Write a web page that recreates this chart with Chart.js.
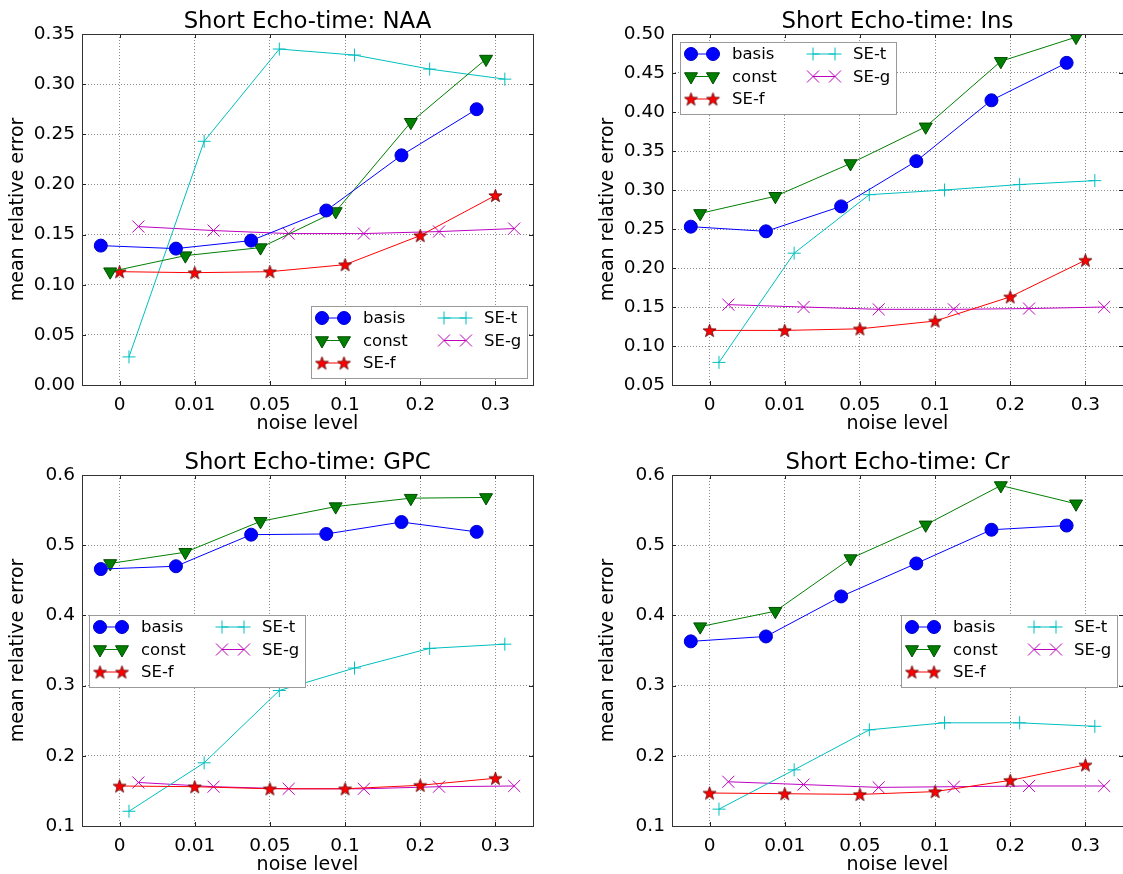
<!DOCTYPE html>
<html><head><meta charset="utf-8">
<script src="https://cdn.jsdelivr.net/npm/chart.js@4.4.1/dist/chart.umd.min.js"></script>
<style>
html,body{margin:0;padding:0;background:#fff;overflow:hidden;width:1123px;height:874px;position:relative;}
.panel{position:absolute;width:561px;height:433px;}
.panel canvas{display:block;}
</style></head><body>
<div class="panel" style="left:0;top:0"><canvas id="c0" width="561" height="433"></canvas></div>
<div class="panel" style="left:590px;top:0"><canvas id="c1" width="561" height="433"></canvas></div>
<div class="panel" style="left:0;top:441px"><canvas id="c2" width="561" height="433"></canvas></div>
<div class="panel" style="left:590px;top:441px"><canvas id="c3" width="561" height="433"></canvas></div>
<script>
// ---- data ----
const noiseLevels = ['0', '0.01', '0.05', '0.1', '0.2', '0.3'];
const seriesNames = ['basis', 'const', 'SE-f', 'SE-t', 'SE-g'];

const naaBasis = [0.139, 0.136, 0.144, 0.174, 0.229, 0.275];
const naaConst = [0.113, 0.129, 0.137, 0.173, 0.262, 0.325];
const naaSEf   = [0.113, 0.112, 0.113, 0.120, 0.149, 0.189];
const naaSEt   = [0.028, 0.243, 0.335, 0.329, 0.315, 0.305];
const naaSEg   = [0.158, 0.154, 0.151, 0.151, 0.153, 0.156];

const insBasis = [0.253, 0.247, 0.279, 0.337, 0.415, 0.463];
const insConst = [0.270, 0.292, 0.334, 0.381, 0.465, 0.496];
const insSEf   = [0.120, 0.120, 0.122, 0.132, 0.163, 0.210];
const insSEt   = [0.079, 0.219, 0.294, 0.300, 0.307, 0.312];
const insSEg   = [0.153, 0.150, 0.147, 0.147, 0.148, 0.150];

const gpcBasis = [0.466, 0.470, 0.515, 0.516, 0.533, 0.519];
const gpcConst = [0.474, 0.490, 0.534, 0.555, 0.567, 0.568];
const gpcSEf   = [0.157, 0.156, 0.153, 0.153, 0.158, 0.168];
const gpcSEt   = [0.121, 0.190, 0.293, 0.325, 0.353, 0.359];
const gpcSEg   = [0.162, 0.156, 0.153, 0.153, 0.156, 0.157];

const crBasis = [0.363, 0.370, 0.427, 0.474, 0.522, 0.528];
const crConst = [0.384, 0.406, 0.481, 0.529, 0.585, 0.559];
const crSEf   = [0.147, 0.146, 0.145, 0.149, 0.165, 0.187];
const crSEt   = [0.124, 0.180, 0.237, 0.247, 0.247, 0.242];
const crSEg   = [0.163, 0.159, 0.155, 0.156, 0.157, 0.157];

const naaTicks = [0, 0.05, 0.10, 0.15, 0.20, 0.25, 0.30, 0.35];
const insTicks = [0.05, 0.10, 0.15, 0.20, 0.25, 0.30, 0.35, 0.40, 0.45, 0.50];
const gpcTicks = [0.1, 0.2, 0.3, 0.4, 0.5, 0.6];
const crTicks  = [0.1, 0.2, 0.3, 0.4, 0.5, 0.6];

// ---- styles ----
const FONT = "'DejaVu Sans', sans-serif";
Chart.defaults.color = '#000';
Chart.defaults.font.family = FONT;

function makeStar(size, fill, edge) {
  const c = document.createElement('canvas');
  c.width = c.height = size;
  const g = c.getContext('2d');
  const cx = size / 2, cy = size / 2 + 0.6, R = size / 2 - 0.6, r = R * 0.40;
  g.beginPath();
  for (let i = 0; i < 10; i++) {
    const a = -Math.PI / 2 + i * Math.PI / 5;
    const rr = (i % 2) ? r : R;
    g.lineTo(cx + rr * Math.cos(a), cy + rr * Math.sin(a));
  }
  g.closePath();
  g.fillStyle = fill; g.fill();
  g.lineWidth = 0.8; g.strokeStyle = edge; g.stroke();
  return c;
}
const starImg = makeStar(15, '#ff0000', '#5a0000');

const seriesStyle = [
  {color: '#0000ff', fill: '#0000ff', edge: '#0000cc', pointStyle: 'circle', radius: 6.5, rotation: 0, pbw: 1, offset: -0.25},
  {color: '#007f00', fill: '#007f00', edge: '#004d00', pointStyle: 'triangle', radius: 7.5, rotation: 180, pbw: 1, offset: -0.125},
  {color: '#ff0000', fill: '#ff0000', edge: '#5a0000', pointStyle: starImg, radius: 6, rotation: 0, pbw: 1, offset: 0},
  {color: '#00bfbf', fill: '#00bfbf', edge: '#00bfbf', pointStyle: 'cross', radius: 6.5, rotation: 0, pbw: 1, offset: 0.125},
  {color: '#bf00bf', fill: '#bf00bf', edge: '#bf00bf', pointStyle: 'crossRot', radius: 8.5, rotation: 0, pbw: 1, offset: 0.25}
];

const panels = [
  {id: 'c0', title: 'Short Echo-time: NAA', series: [naaBasis, naaConst, naaSEf, naaSEt, naaSEg], yTicks: naaTicks, dec: 2, legend: 'lower right'},
  {id: 'c1', title: 'Short Echo-time: Ins', series: [insBasis, insConst, insSEf, insSEt, insSEg], yTicks: insTicks, dec: 2, legend: 'upper left'},
  {id: 'c2', title: 'Short Echo-time: GPC', series: [gpcBasis, gpcConst, gpcSEf, gpcSEt, gpcSEg], yTicks: gpcTicks, dec: 1, legend: 'center left'},
  {id: 'c3', title: 'Short Echo-time: Cr', series: [crBasis, crConst, crSEf, crSEt, crSEg], yTicks: crTicks, dec: 1, legend: 'center right'}
];

function drawMarker(ctx, st, x, y) {
  ctx.save();
  ctx.fillStyle = st.fill;
  ctx.strokeStyle = st.edge;
  ctx.lineWidth = st.pbw;
  Chart.helpers.drawPoint(ctx, {pointStyle: st.pointStyle, rotation: st.rotation, radius: st.radius, borderWidth: st.pbw}, x, y);
  ctx.restore();
}

const decorPlugin = {
  id: 'decor',
  afterDatasetsDraw(chart, args, opts) {
    const ctx = chart.ctx;
    const a = chart.chartArea;
    const xs = chart.scales.x, ys = chart.scales.y;
    ctx.save();
    // inward ticks on all four sides
    ctx.strokeStyle = '#222';
    ctx.lineWidth = 1;
    ctx.beginPath();
    xs.ticks.forEach(t => {
      const px = Math.round(xs.getPixelForValue(t.value)) + 0.5;
      ctx.moveTo(px, a.bottom); ctx.lineTo(px, a.bottom - 4);
      ctx.moveTo(px, a.top); ctx.lineTo(px, a.top + 4);
    });
    ys.ticks.forEach(t => {
      const py = Math.round(ys.getPixelForValue(t.value)) + 0.5;
      ctx.moveTo(a.left, py); ctx.lineTo(a.left + 4, py);
      ctx.moveTo(a.right, py); ctx.lineTo(a.right - 4, py);
    });
    ctx.stroke();
    // frame
    ctx.strokeStyle = '#333';
    ctx.strokeRect(Math.round(a.left) + 0.5, Math.round(a.top) + 0.5, Math.round(a.right - a.left), Math.round(a.bottom - a.top));
    // title
    ctx.fillStyle = '#000';
    ctx.font = '22.8px ' + FONT;
    ctx.textAlign = 'center';
    ctx.textBaseline = 'alphabetic';
    ctx.fillText(opts.title, (a.left + a.right) / 2, a.top - 6);
    // legend
    const w = 216, h = 72, gap = 6;
    let lx, ly;
    const loc = opts.legend;
    if (loc === 'lower right') { lx = a.right - gap - w; ly = a.bottom - gap - h - 1; }
    else if (loc === 'upper left') { lx = a.left + gap + 2; ly = a.top + gap + 2; }
    else if (loc === 'center left') { lx = a.left + gap + 1; ly = (a.top + a.bottom) / 2 - h / 2; }
    else { lx = a.right - gap - w; ly = (a.top + a.bottom) / 2 - h / 2; }
    lx = Math.round(lx); ly = Math.round(ly);
    ctx.fillStyle = '#fff';
    ctx.fillRect(lx, ly, w, h);
    ctx.strokeStyle = '#9a9a9a';
    ctx.lineWidth = 1;
    ctx.strokeRect(lx + 0.5, ly + 0.5, w, h);
    ctx.font = '16.5px ' + FONT;
    ctx.textAlign = 'left';
    ctx.textBaseline = 'middle';
    seriesNames.forEach((name, i) => {
      const col = i < 3 ? 0 : 1;
      const row = i < 3 ? i : i - 3;
      const st = seriesStyle[i];
      const bx = lx + (col === 0 ? 11 : 133);
      const by = ly + 12 + row * 22.5;
      ctx.strokeStyle = st.color;
      ctx.lineWidth = 1;
      ctx.beginPath(); ctx.moveTo(bx, by); ctx.lineTo(bx + 22, by); ctx.stroke();
      drawMarker(ctx, st, bx, by);
      drawMarker(ctx, st, bx + 22, by);
      ctx.fillStyle = '#000';
      ctx.fillText(name, lx + (col === 0 ? 52 : 173), by + 1);
    });
    ctx.restore();
  }
};

panels.forEach(p => {
  const datasets = p.series.map((vals, si) => {
    const st = seriesStyle[si];
    return {
      label: seriesNames[si],
      data: vals.map((v, i) => ({x: i + st.offset, y: v})),
      borderColor: st.color,
      backgroundColor: st.fill,
      borderWidth: 1,
      pointStyle: st.pointStyle,
      pointRotation: st.rotation,
      pointRadius: st.radius,
      pointHoverRadius: st.radius,
      pointBackgroundColor: st.fill,
      pointBorderColor: st.edge,
      pointBorderWidth: st.pbw,
      tension: 0,
      fill: false,
      clip: 0
    };
  });
  const yMin = p.yTicks[0], yMax = p.yTicks[p.yTicks.length - 1];
  new Chart(document.getElementById(p.id), {
    type: 'line',
    data: {datasets},
    plugins: [decorPlugin],
    options: {
      responsive: false,
      animation: false,
      events: [],
      layout: {padding: {top: 34, right: 28, left: 0, bottom: 0}},
      plugins: {
        legend: {display: false},
        tooltip: {enabled: false},
        title: {display: false},
        decor: {title: p.title, legend: p.legend}
      },
      scales: {
        x: {
          type: 'linear',
          min: -0.5, max: 5.5,
          afterBuildTicks: s => { s.ticks = noiseLevels.map((_, i) => ({value: i})); },
          afterFit: s => { s.height = 48; },
          ticks: {
            autoSkip: false, maxRotation: 0, padding: 9,
            font: {size: 18.5, family: FONT}, color: '#000',
            callback: v => noiseLevels[Math.round(v)]
          },
          grid: {color: '#8c8c8c', lineWidth: 1, drawTicks: false},
          border: {display: false, dash: [1, 2]},
          title: {display: true, text: 'noise level', font: {size: 19, family: FONT}, color: '#000', padding: {top: 0, bottom: -2}}
        },
        y: {
          type: 'linear',
          min: yMin, max: yMax,
          afterBuildTicks: s => { s.ticks = p.yTicks.map(v => ({value: v})); },
          afterFit: s => { s.width = 82; },
          ticks: {
            padding: 7,
            font: {size: 18.5, family: FONT}, color: '#000',
            callback: v => Number(v).toFixed(p.dec)
          },
          grid: {color: '#8c8c8c', lineWidth: 1, drawTicks: false},
          border: {display: false, dash: [1, 2]},
          title: {display: true, text: 'mean relative error', font: {size: 19, family: FONT}, color: '#000', padding: {top: 7, bottom: 0}}
        }
      }
    }
  });
});
</script>
</body></html>
